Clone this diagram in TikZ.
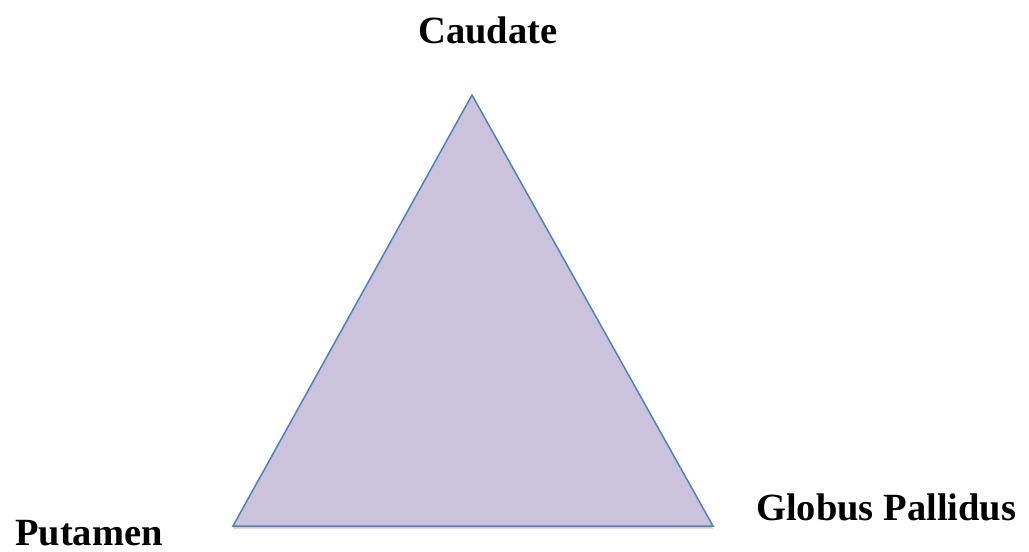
\documentclass[tikz,border=0pt]{standalone}
\usepackage{fontspec}
\setmainfont{Liberation Serif}
\usetikzlibrary{shadows}
\definecolor{lavender}{RGB}{203,194,219}
\definecolor{edgeblue}{RGB}{79,129,189}
\begin{document}
\begin{tikzpicture}[x=1pt, y=-1pt, every node/.style={font=\fontsize{38.5}{42}\selectfont\bfseries, inner sep=0pt}]
		\useasboundingbox (0,0) rectangle (1029,552);
		\coordinate (top) at (472,95);
		\coordinate (left) at (233,526);
		\coordinate (right) at (713,526);
		\filldraw[line width=1.5pt, draw=edgeblue, fill=lavender, drop shadow={opacity=0.4, shadow xshift=0pt, shadow yshift=-2.5pt}] (top) -- (left) -- (right) -- cycle;
		\node[anchor=base] (caudate) at (488,43) {Caudate};
		\node[anchor=base] (putamen) at (89,545) {Putamen};
		\node[anchor=base west] (globus) at (756,520) {Globus Pallidus};
	\end{tikzpicture}
\end{document}
